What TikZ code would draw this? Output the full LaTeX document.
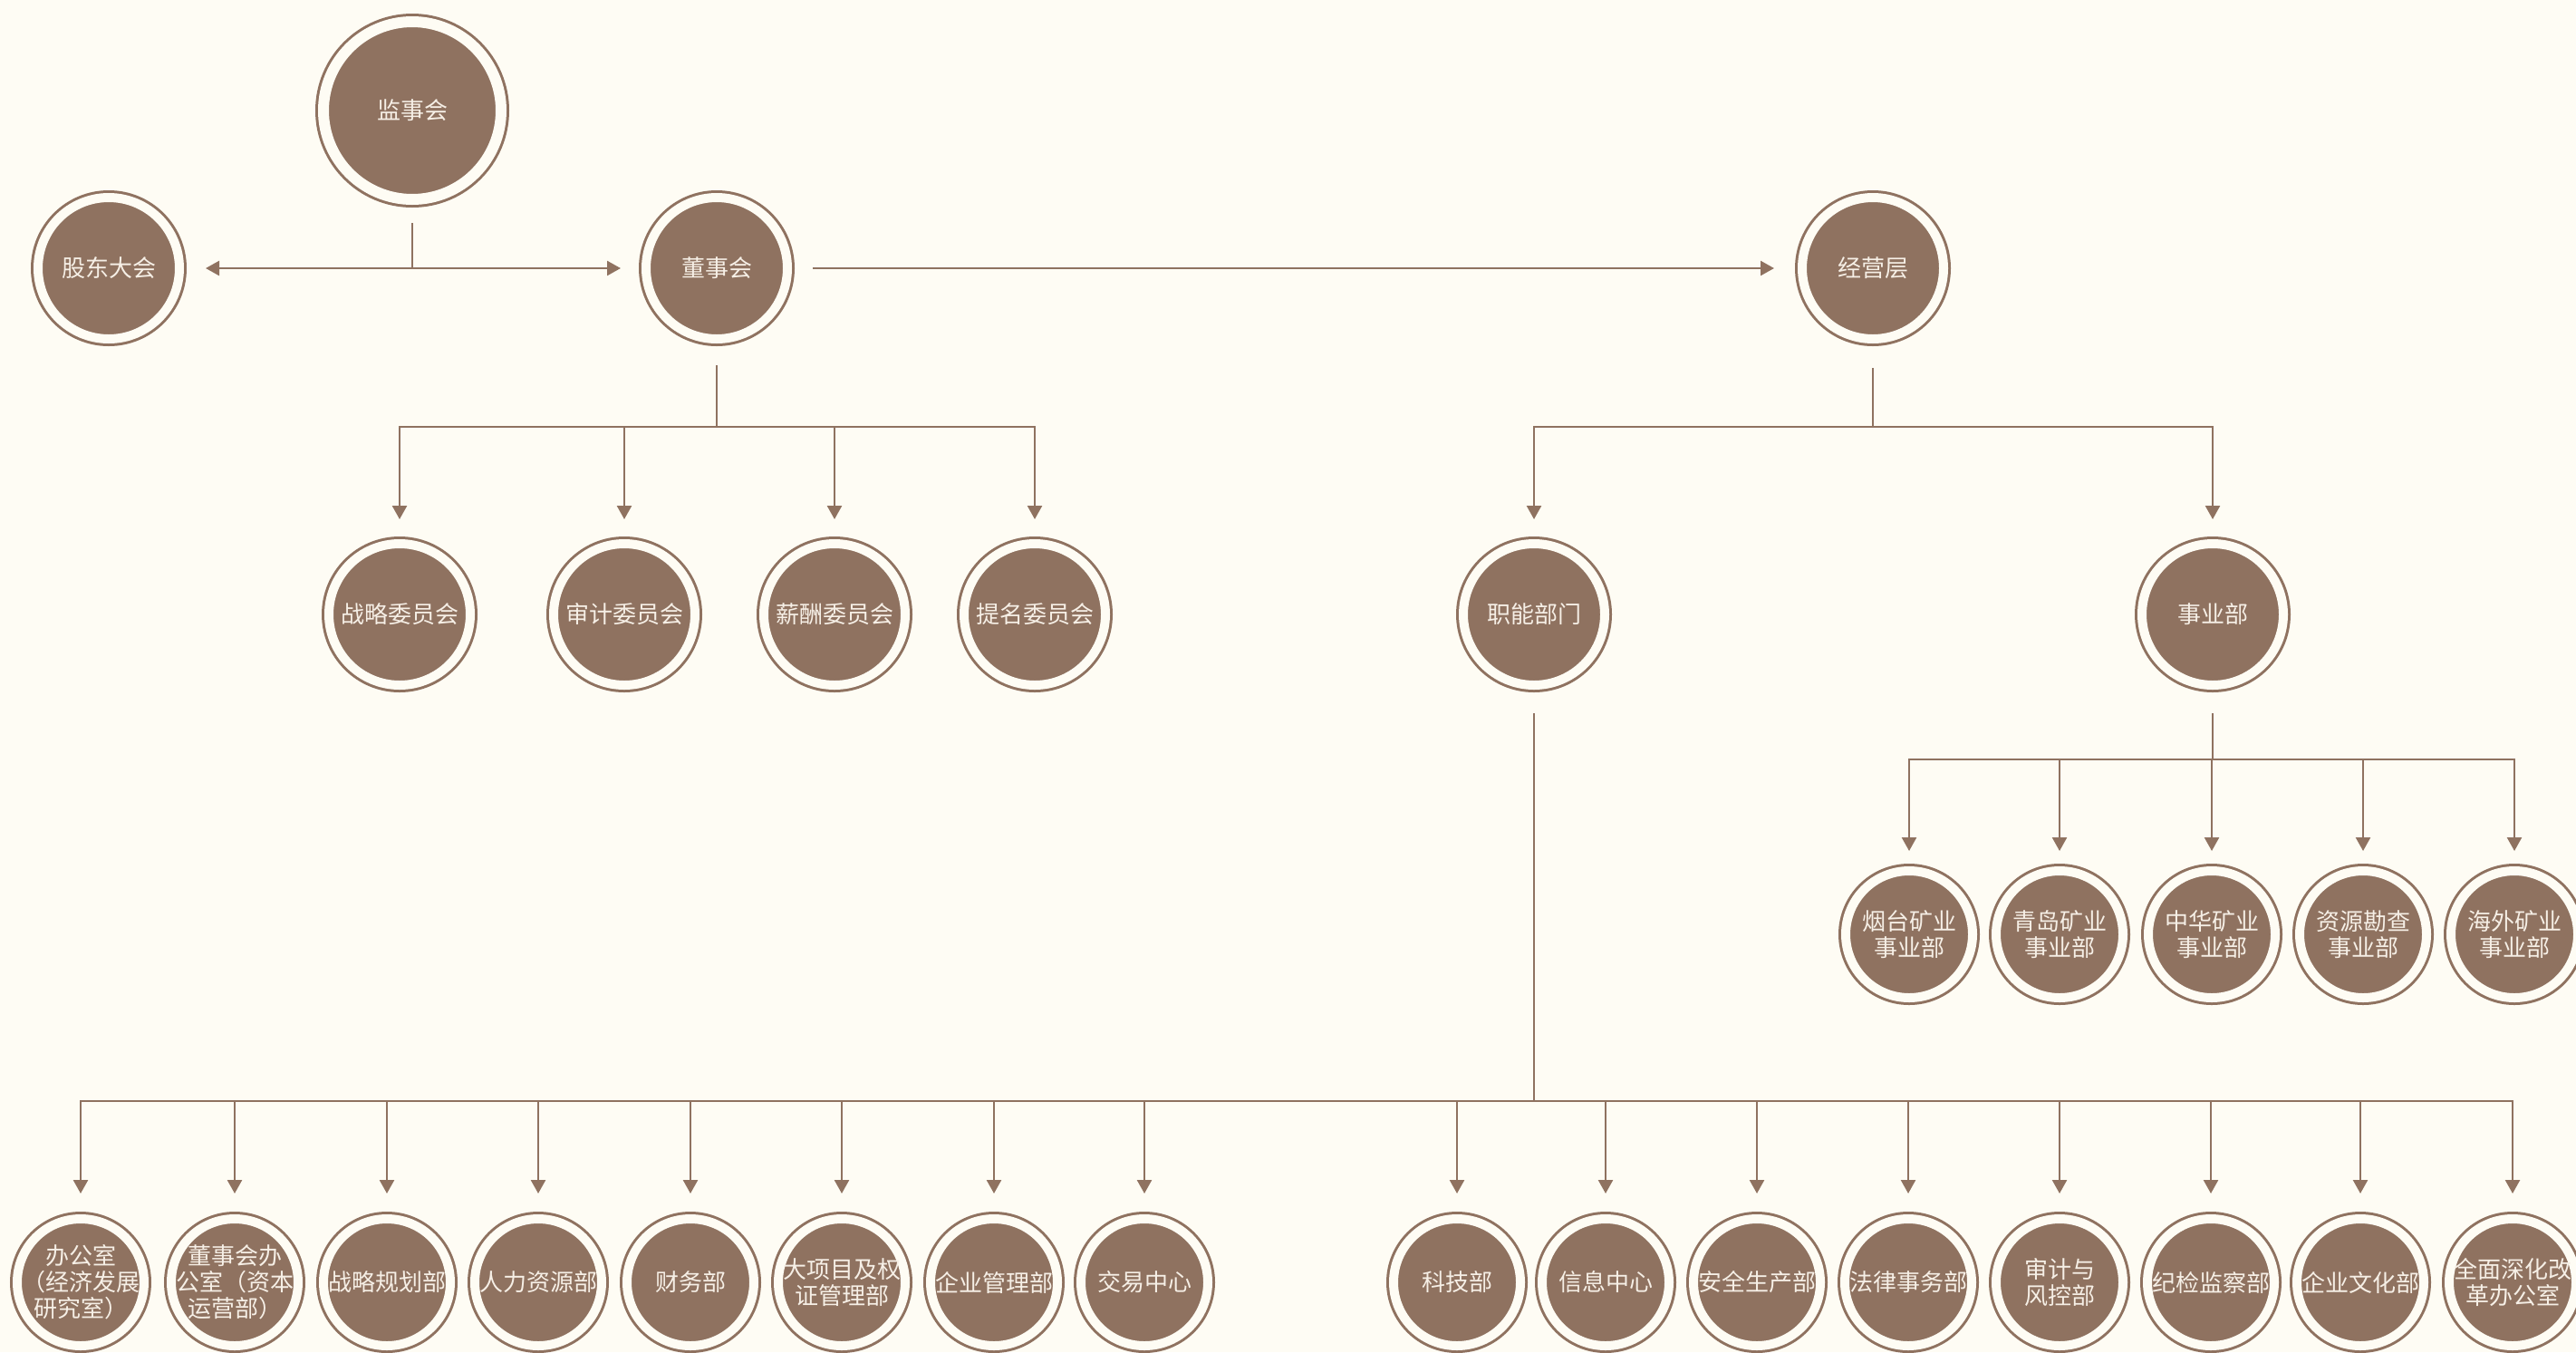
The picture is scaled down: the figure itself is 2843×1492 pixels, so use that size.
\documentclass[tikz,border=0pt]{standalone}
\usepackage{fontspec}
\newfontfamily\cjk{Noto Sans CJK SC}
\usetikzlibrary{arrows.meta,calc}
\definecolor{brn}{RGB}{143,114,96}
\definecolor{bgc}{RGB}{254,252,244}
\definecolor{txt}{RGB}{246,239,230}
\tikzset{
 orb/.style={circle, fill=brn, draw=brn, line width=3pt, double=bgc, inner sep=0pt},
 big/.style={orb, minimum size=196pt, double distance=12pt},
 mid/.style={orb, minimum size=156pt, double distance=10pt},
 sml/.style={orb, minimum size=140pt, double distance=10pt},
 lab/.style={text=txt, font=\cjk\fontsize{26}{29}\selectfont, align=center, inner sep=0pt},
 ln/.style={draw=brn, line width=2.5pt},
 arr/.style={ln, -{Triangle[length=15pt,width=16pt]}},
 dbl/.style={ln, {Triangle[length=15pt,width=16pt]}-{Triangle[length=15pt,width=16pt]}},
}
\begin{document}
\begin{tikzpicture}[x=1pt,y=-1pt]
\fill[bgc] (0,0) rectangle (2843,1492);
\useasboundingbox (0,0) rectangle (2843,1492);
% top level
\node[big, label={[lab]center:监事会}] (jsh) at (455,122) {};
\node[mid, label={[lab]center:股东大会}] (gd) at (120,296) {};
\node[mid, label={[lab]center:董事会}] (dsh) at (791,296) {};
\node[mid, label={[lab]center:经营层}] (jyc) at (2067,296) {};
% committees
\node[mid, label={[lab]center:战略委员会}] (zl) at (441,678) {};
\node[mid, label={[lab]center:审计委员会}] (sj) at (689,678) {};
\node[mid, label={[lab]center:薪酬委员会}] (xc) at (921,678) {};
\node[mid, label={[lab]center:提名委员会}] (tm) at (1142,678) {};
\node[mid, label={[lab]center:职能部门}] (zn) at (1693,678) {};
\node[mid, label={[lab]center:事业部}] (sy) at (2442,678) {};
% business units
\node[sml, label={[lab]center:{烟台矿业\\事业部}}] (s1) at (2107,1031) {};
\node[sml, label={[lab]center:{青岛矿业\\事业部}}] (s2) at (2273,1031) {};
\node[sml, label={[lab]center:{中华矿业\\事业部}}] (s3) at (2441,1031) {};
\node[sml, label={[lab]center:{资源勘查\\事业部}}] (s4) at (2608,1031) {};
\node[sml, label={[lab]center:{海外矿业\\事业部}}] (s5) at (2775,1031) {};
% functional departments
\node[sml, label={[lab]center:{办公室\\（经济发展\\研究室）}}] (f1) at (89,1415) {};
\node[sml, label={[lab]center:{董事会办\\公室（资本\\运营部）}}] (f2) at (259,1415) {};
\node[sml, label={[lab]center:战略规划部}] (f3) at (427,1415) {};
\node[sml, label={[lab]center:人力资源部}] (f4) at (594,1415) {};
\node[sml, label={[lab]center:财务部}] (f5) at (762,1415) {};
\node[sml, label={[lab]center:{大项目及权\\证管理部}}] (f6) at (929,1415) {};
\node[sml, label={[lab]center:企业管理部}] (f7) at (1097,1415) {};
\node[sml, label={[lab]center:交易中心}] (f8) at (1263,1415) {};
\node[sml, label={[lab]center:科技部}] (f9) at (1608,1415) {};
\node[sml, label={[lab]center:信息中心}] (f10) at (1772,1415) {};
\node[sml, label={[lab]center:安全生产部}] (f11) at (1939,1415) {};
\node[sml, label={[lab]center:法律事务部}] (f12) at (2106,1415) {};
\node[sml, label={[lab]center:{审计与\\风控部}}] (f13) at (2273,1415) {};
\node[sml, label={[lab]center:纪检监察部}] (f14) at (2440,1415) {};
\node[sml, label={[lab]center:企业文化部}] (f15) at (2605,1415) {};
\node[sml, label={[lab]center:{全面深化改\\革办公室}}] (f16) at (2773,1415) {};
% connectors
\draw[ln] ($(jsh)+(0,124)$) -- (jsh |- dsh);
\draw[dbl] ($(gd)+(107,0)$) -- ($(dsh)+(-106,0)$);
\draw[arr] ($(dsh)+(106,0)$) -- ($(jyc)+(-109,0)$);
% board -> committees
\draw[ln] ($(dsh)+(0,107)$) -- ($(dsh)+(0,175)$) coordinate (dj);
\draw[ln, line cap=rect] (dj -| zl) -- (dj -| tm);
\foreach \n in {zl,sj,xc,tm} \draw[arr] (dj -| \n) -- ($(\n)+(0,-105)$);
% management -> departments
\draw[ln] ($(jyc)+(0,110)$) -- ($(jyc)+(0,175)$) coordinate (jj);
\draw[ln, line cap=rect] (jj -| zn) -- (jj -| sy);
\foreach \n in {zn,sy} \draw[arr] (jj -| \n) -- ($(\n)+(0,-105)$);
% business division -> units
\draw[ln] ($(sy)+(0,109)$) -- ($(sy)+(0,160)$) coordinate (sj2);
\draw[ln, line cap=rect] (sj2 -| s1) -- (sj2 -| s5);
\foreach \n in {s1,s2,s3,s4,s5} \draw[arr] (sj2 -| \n) -- ($(\n)+(0,-92)$);
% functional -> departments
\draw[ln] ($(zn)+(0,109)$) -- ($(zn)+(0,537)$) coordinate (zj);
\draw[ln, line cap=rect] (zj -| f1) -- (zj -| f16);
\foreach \n in {f1,f2,f3,f4,f5,f6,f7,f8,f9,f10,f11,f12,f13,f14,f15,f16} \draw[arr] (zj -| \n) -- ($(\n)+(0,-98)$);
\end{tikzpicture}
\end{document}
